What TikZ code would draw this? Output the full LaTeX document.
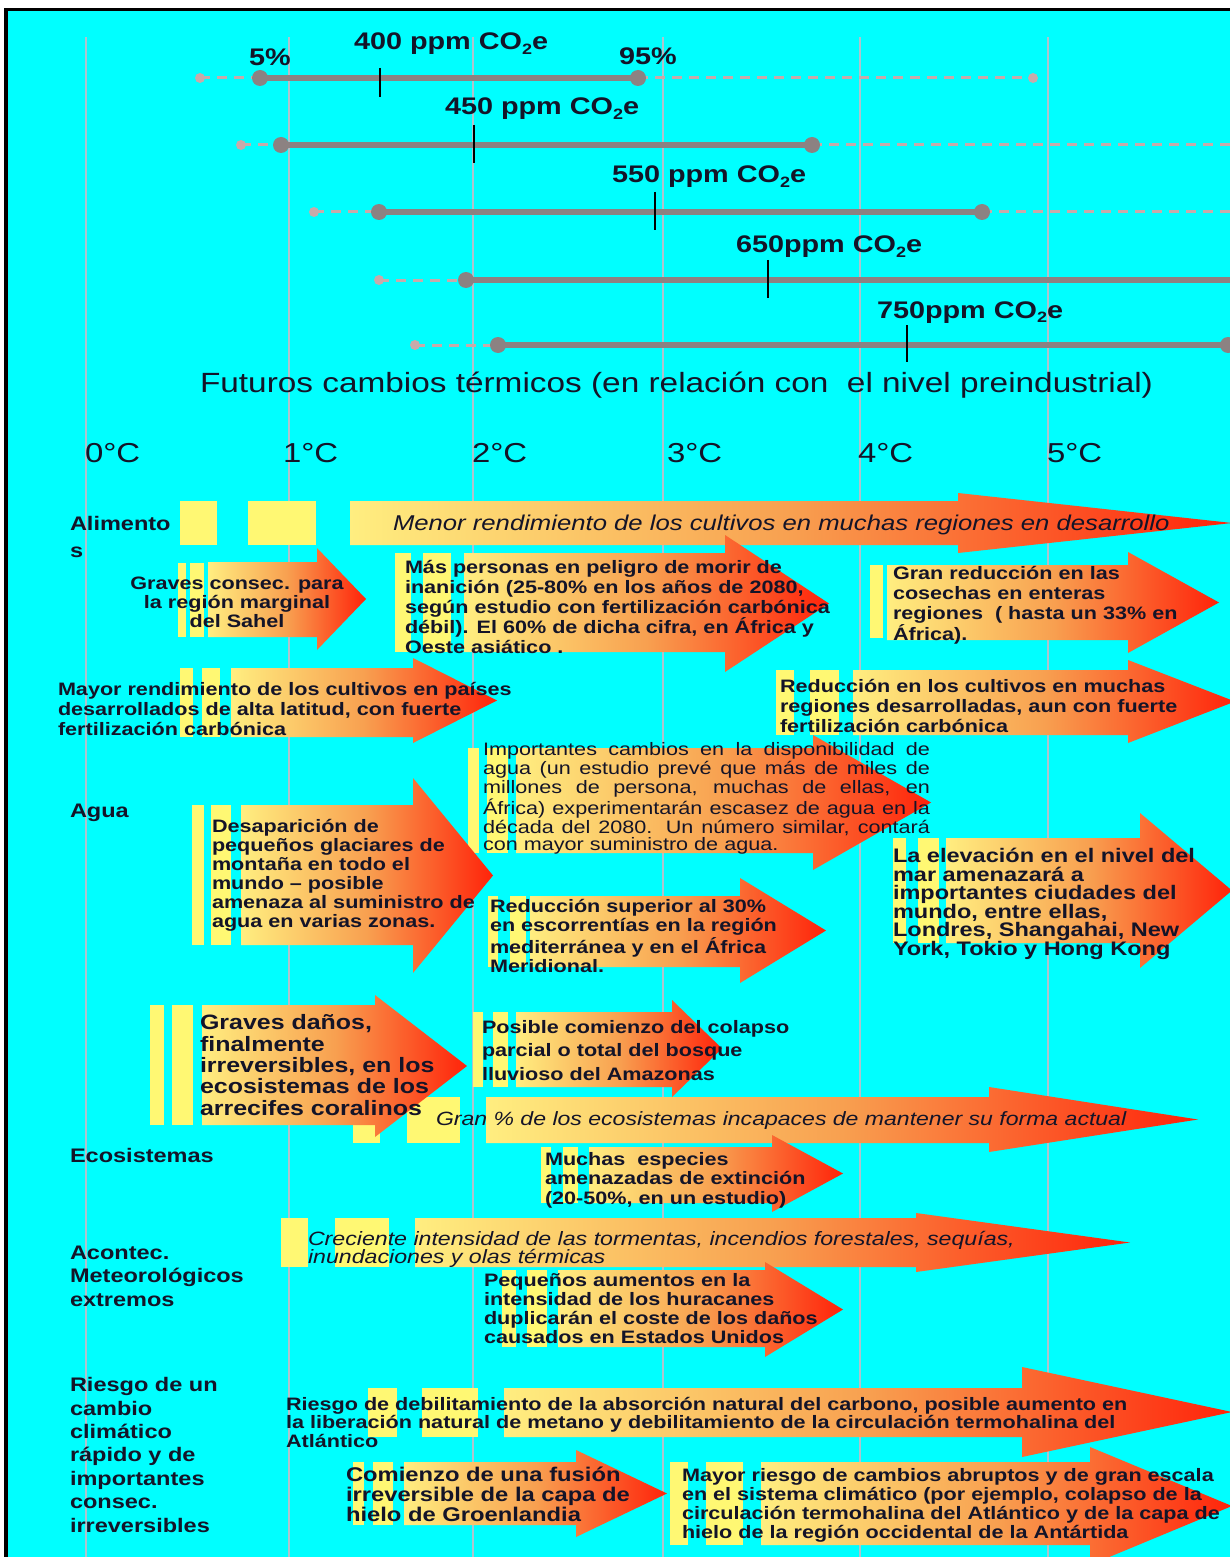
\documentclass[tikz,border=0pt]{standalone}
\usepackage{fontspec}
\setmainfont{Liberation Sans}
\newfontfamily\fs[FakeStretch=1.2]{Liberation Sans}
\definecolor{cy}{RGB}{0,255,255}
\definecolor{ay}{RGB}{255,238,128}
\definecolor{ao}{RGB}{248,160,80}
\definecolor{ar}{RGB}{255,35,10}
\definecolor{sy}{RGB}{255,248,115}
\definecolor{tc}{RGB}{20,20,40}
\definecolor{gridc}{RGB}{175,195,205}
\definecolor{barc}{RGB}{140,130,130}
\definecolor{lbarc}{RGB}{200,170,170}
\tikzset{
  arrowfill/.style={left color=ay, right color=ar, middle color=ao},
  stripe/.style={fill=sy},
  lab/.style={inner sep=0pt, outer sep=0pt, text=tc, anchor=base west, align=left},
  gridln/.style={draw=gridc, line width=1pt},
  dkbar/.style={draw=barc, line width=2.75pt},
  ltbar/.style={draw=lbarc, line width=1.5pt, dash pattern=on 5pt off 3.5pt},
  tickln/.style={draw=black, line width=0.75pt},
  bt/.style={lab, font=\fs\bfseries\fz{9}{10}},
}
\newcommand{\fz}[2]{\fontsize{#1}{#2}\selectfont}
\newcommand{\sub}[1]{\raisebox{-0.35ex}{\fontsize{7.5}{8}\selectfont #1}}
% arrow: x0, xh, xt, body top, body bottom, head top, head bottom
\newcommand{\arr}[7]{\shade[arrowfill] (#1,#4) -- (#2,#4) -- (#2,#6) -- (#3,{(#6+#7)/2}) -- (#2,#7) -- (#2,#5) -- (#1,#5) -- cycle;}
\newcommand{\strp}[4]{\fill[stripe] (#1,#2) rectangle (#3,#4);}
\begin{document}
\begin{tikzpicture}[x=0.5pt,y=-0.5pt]
\useasboundingbox (0,0) rectangle (1230,1557);
\clip (0,0) rectangle (1230,1557);
\fill[white] (0,0) rectangle (1230,1557);
\fill[black] (4,8) rectangle (1230,1557);
\fill[cy] (8,11) rectangle (1230,1557);
\foreach \gx in {86,289,473,663,860,1048} \draw[gridln] (\gx,37) -- (\gx,1557);

% ---- concentration bars ----
\draw[ltbar] (200,78) -- (260,78);
\draw[dkbar] (260,78) -- (638,78);
\draw[ltbar] (638,78) -- (1033,78);
\fill[lbarc] (200,78) circle (2.5pt); \fill[lbarc] (1033,78) circle (2.5pt);
\fill[barc] (260,78) circle (4pt); \fill[barc] (638,78) circle (4pt);
\draw[tickln] (380,68) -- (380,97);

\draw[ltbar] (241,145) -- (281,145);
\draw[dkbar] (281,145) -- (812,145);
\draw[ltbar] (812,145) -- (1230,145);
\fill[lbarc] (241,145) circle (2.5pt);
\fill[barc] (281,145) circle (4pt); \fill[barc] (812,145) circle (4pt);
\draw[tickln] (474,125) -- (474,163);

\draw[ltbar] (314,212) -- (379,212);
\draw[dkbar] (379,212) -- (982,212);
\draw[ltbar] (982,212) -- (1230,212);
\fill[lbarc] (314,212) circle (2.5pt);
\fill[barc] (379,212) circle (4pt); \fill[barc] (982,212) circle (4pt);
\draw[tickln] (655,192) -- (655,230);

\draw[ltbar] (379,280) -- (466,280);
\draw[dkbar] (466,280) -- (1230,280);
\fill[lbarc] (379,280) circle (2.5pt);
\fill[barc] (466,280) circle (4pt);
\draw[tickln] (768,260) -- (768,298);

\draw[ltbar] (415,345) -- (498,345);
\draw[dkbar] (498,345) -- (1228,345);
\fill[lbarc] (415,345) circle (2.5pt);
\fill[barc] (498,345) circle (4pt); \fill[barc] (1228,345) circle (4pt);
\draw[tickln] (907,325) -- (907,362);

\node[lab, font=\fs\bfseries\fz{12}{14}] (p5) at (249,66) {5\%};
\node[lab, font=\fs\bfseries\fz{12}{14}] (c400) at (354,50) {400 ppm CO\sub{2}e};
\node[lab, font=\fs\bfseries\fz{12}{14}] (p95) at (619,65) {95\%};
\node[lab, font=\fs\bfseries\fz{12}{14}] (c450) at (445,115) {450 ppm CO\sub{2}e};
\node[lab, font=\fs\bfseries\fz{12}{14}] (c550) at (612,183) {550 ppm CO\sub{2}e};
\node[lab, font=\fs\bfseries\fz{12}{14}] (c650) at (736,253) {650ppm CO\sub{2}e};
\node[lab, font=\fs\bfseries\fz{12}{14}] (c750) at (877,318) {750ppm CO\sub{2}e};

\node[lab, font=\fs\fz{13.9}{16}] (title) at (200,392) {Futuros cambios térmicos (en relación con\ \ el nivel preindustrial)};
\node[lab, font=\fs\fz{13.7}{16}] (d0) at (85,462) {0°C};
\node[lab, font=\fs\fz{13.7}{16}] (d1) at (283,462) {1°C};
\node[lab, font=\fs\fz{13.7}{16}] (d2) at (472,462) {2°C};
\node[lab, font=\fs\fz{13.7}{16}] (d3) at (667,462) {3°C};
\node[lab, font=\fs\fz{13.7}{16}] (d4) at (858,462) {4°C};
\node[lab, font=\fs\fz{13.7}{16}] (d5) at (1047,462) {5°C};

% ---- Alimentos ----
\strp{180}{501}{217}{545}\strp{248}{501}{316}{545}
\arr{350}{958}{1232}{501}{545}{493}{553}
\node[lab, font=\fs\itshape\fz{10.7}{12}] (menor) at (393,530) {Menor rendimiento de los cultivos en muchas regiones en desarrollo};

\strp{178}{563}{186}{637}\strp{190}{563}{204}{637}
\arr{208}{317}{366}{562}{637}{548}{650}
\node[bt, align=center, anchor=base, font=\fs\bfseries\fz{9}{9.5}] (sahel) at (237,627) {Graves consec. para\\la región marginal\\del Sahel};

\strp{395}{553}{411}{652}\strp{423}{553}{451}{652}
\arr{464}{725}{829}{553}{652}{535}{672}
\node[bt] (mas) at (405,653) {Más personas en peligro de morir de\\inanición (25-80\% en los años de 2080,\\según estudio con fertilización carbónica\\débil). El 60\% de dicha cifra, en África y\\Oeste asiático .};

\strp{870}{565}{883}{638}
\arr{887}{1128}{1219}{565}{640}{552}{653}
\node[bt, font=\fs\bfseries\fz{9}{10.15}] (granred) at (893,640) {Gran reducción en las\\cosechas en enteras\\regiones\ \ ( hasta un 33\% en\\África).};

\strp{180}{668}{193}{737}\strp{202}{668}{220}{737}
\arr{231}{413}{497}{668}{737}{658}{743}
\node[bt] (mayorr) at (58,735) {Mayor rendimiento de los cultivos en países\\desarrollados de alta latitud, con fuerte\\fertilización carbónica};

\strp{776}{670}{794}{735}\strp{810}{670}{839}{735}
\arr{853}{1128}{1235}{670}{735}{660}{743}
\node[bt] (redcult) at (780,732) {Reducción en los cultivos en muchas\\regiones desarrolladas, aun con fuerte\\fertilización carbónica};

% ---- Agua ----
\strp{468}{748}{479}{853}\strp{487}{748}{508}{853}
\arr{516}{813}{931}{748}{853}{735}{870}
\node[lab, font=\fs\fz{9}{8.25}] (importantes) at (483,850) {\makebox[223.5pt][s]{Importantes cambios en la disponibilidad de}\\\makebox[223.5pt][s]{agua (un estudio prevé que más de miles de}\\\makebox[223.5pt][s]{millones de persona, muchas de ellas, en}\\\makebox[223.5pt][s]{África) experimentarán escasez de agua en la}\\\makebox[223.5pt][s]{década del 2080. Un número similar, contará}\\con mayor suministro de agua.};

\strp{192}{805}{204}{945}\strp{211}{805}{231}{945}
\arr{241}{413}{493}{805}{945}{778}{973}
\node[bt, font=\fs\bfseries\fz{9}{9.5}] (desap) at (212,927) {Desaparición de\\pequeños glaciares de\\montaña en todo el\\mundo – posible\\amenaza al suministro de\\agua en varias zonas.};

\strp{893}{838}{906}{943}\strp{918}{838}{939}{943}
\arr{946}{1140}{1232}{838}{943}{813}{968}
\node[bt, font=\fs\bfseries\fz{9.8}{9.25}] (elev) at (893,955) {La elevación en el nivel del\\mar amenazará a\\importantes ciudades del\\mundo, entre ellas,\\Londres, Shangahai, New\\York, Tokio y Hong Kong};

\strp{488}{896}{498}{967}\strp{510}{896}{526}{967}
\arr{530}{740}{826}{896}{967}{878}{983}
\node[bt, font=\fs\bfseries\fz{9}{9.5}] (redsup) at (490,972) {Reducción superior al 30\%\\en escorrentías en la región\\mediterránea y en el África\\Meridional.};

% ---- Ecosistemas ----
\strp{353}{1097}{380}{1143}\strp{407}{1097}{460}{1143}
\arr{486}{989}{1198}{1097}{1143}{1087}{1152}

\strp{473}{1012}{483}{1087}\strp{493}{1012}{508}{1087}
\arr{516}{672}{722}{1012}{1087}{1000}{1097}
\node[bt, font=\fs\bfseries\fz{9}{11.75}] (posible) at (482,1080) {Posible comienzo del colapso\\parcial o total del bosque\\lluvioso del Amazonas};

\strp{150}{1005}{164}{1125}\strp{172}{1005}{193}{1125}
\arr{202}{375}{467}{1005}{1125}{995}{1137}
\node[bt, font=\fs\bfseries\fz{10.4}{10.65}] (coral) at (200,1115) {Graves daños,\\finalmente\\irreversibles, en los\\ecosistemas de los\\arrecifes coralinos};
\node[lab, font=\fs\itshape\fz{9.6}{11}] (granpct) at (436,1125) {Gran \% de los ecosistemas incapaces de mantener su forma actual};

\strp{541}{1147}{551}{1203}\strp{563}{1147}{578}{1203}
\arr{589}{772}{843}{1147}{1203}{1135}{1212}
\node[bt, font=\fs\bfseries\fz{9}{9.75}] (muchas) at (545,1204) {Muchas\ \ especies\\amenazadas de extinción\\(20-50\%, en un estudio)};

% ---- Acontecimientos ----
\strp{281}{1218}{308}{1267}\strp{335}{1218}{389}{1267}
\arr{415}{916}{1130}{1218}{1267}{1213}{1272}
\node[lab, font=\fs\itshape\fz{9.65}{9.25}] (creciente) at (308,1263.5) {Creciente intensidad de las tormentas, incendios forestales, sequías,\\inundaciones y olas térmicas};

\strp{502}{1270}{516}{1347}\strp{527}{1270}{547}{1347}
\arr{558}{765}{843}{1270}{1347}{1262}{1357}
\node[bt, font=\fs\bfseries\fz{9}{9.35}] (pequenos) at (484,1343) {Pequeños aumentos en la\\intensidad de los huracanes\\duplicarán el coste de los daños\\causados en Estados Unidos};

% ---- Riesgo ----
\strp{368}{1388}{397}{1437}\strp{422}{1388}{478}{1437}
\arr{504}{1022}{1232}{1388}{1437}{1367}{1457}
\node[bt, font=\fs\bfseries\fz{9}{9.25}] (debil) at (286,1447) {Riesgo de debilitamiento de la absorción natural del carbono, posible aumento en\\la liberación natural de metano y debilitamiento de la circulación termohalina del\\Atlántico};

\strp{353}{1462}{364}{1525}\strp{373}{1462}{393}{1525}
\arr{404}{576}{667}{1462}{1525}{1450}{1537}
\node[bt, font=\fs\bfseries\fz{9.9}{10}] (groen) at (346,1521) {Comienzo de una fusión\\irreversible de la capa de\\hielo de Groenlandia};

\strp{670}{1462}{688}{1545}\strp{706}{1462}{743}{1545}
\arr{761}{1090}{1232}{1462}{1545}{1447}{1565}
\node[bt, font=\fs\bfseries\fz{9}{9.35}] (abrupt) at (682,1538) {Mayor riesgo de cambios abruptos y de gran escala\\en el sistema climático (por ejemplo, colapso de la\\circulación termohalina del Atlántico y de la capa de\\hielo de la región occidental de la Antártida};

% ---- row labels ----
\node[lab, font=\fs\bfseries\fz{9.8}{13.5}] (lalim) at (70,557) {Alimento\\s};
\node[lab, font=\fs\bfseries\fz{9.8}{12}] (lagua) at (70,817) {Agua};
\node[lab, font=\fs\bfseries\fz{9.8}{12}] (leco) at (70,1162) {Ecosistemas};
\node[lab, font=\fs\bfseries\fz{9.8}{11.75}] (lacon) at (70,1306) {Acontec.\\Meteorológicos\\extremos};
\node[lab, font=\fs\bfseries\fz{9.8}{11.67}] (lriesgo) at (70,1532) {Riesgo de un\\cambio\\climático\\rápido y de\\importantes\\consec.\\irreversibles};
\end{tikzpicture}
\end{document}
